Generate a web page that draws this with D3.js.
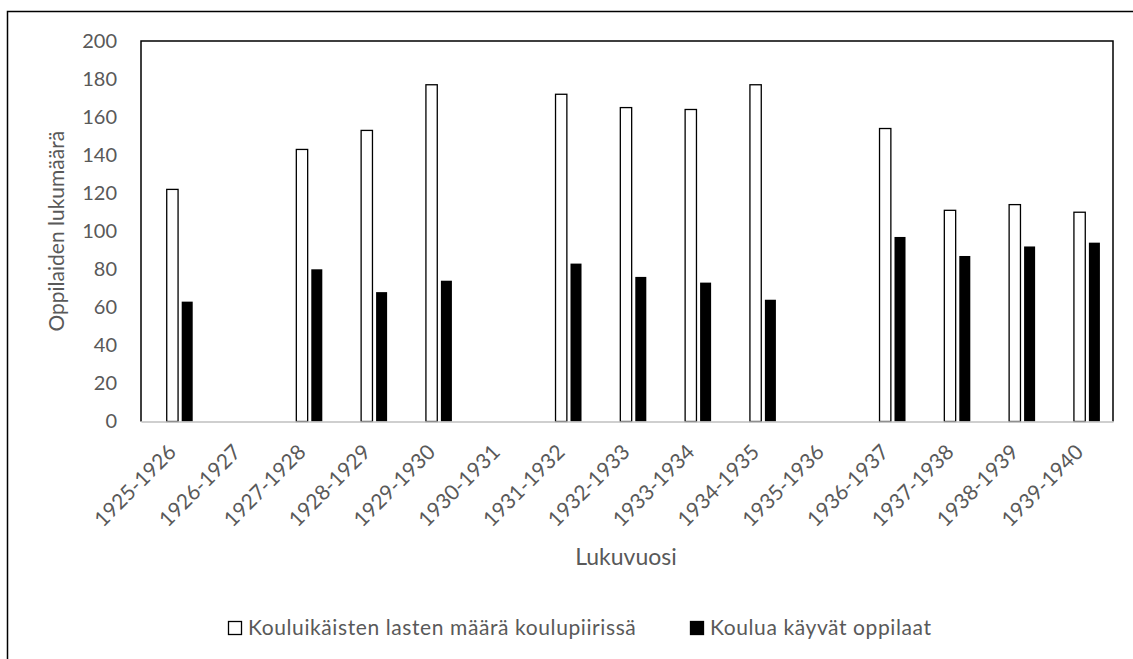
<!DOCTYPE html>
<html><head><meta charset="utf-8">
<script src="https://cdn.jsdelivr.net/npm/d3@7"></script>
<style>body{margin:0;background:#fff}svg{display:block}</style>
</head><body>
<script>
const categories = ["1925-1926","1926-1927","1927-1928","1928-1929","1929-1930","1930-1931","1931-1932","1932-1933","1933-1934","1934-1935","1935-1936","1936-1937","1937-1938","1938-1939","1939-1940"];
const children = [122,null,143,153,177,null,172,165,164,177,null,154,111,114,110];
const pupils = [63,null,80,68,74,null,83,76,73,64,null,97,87,92,94];
const seriesNames = ["Kouluikäisten lasten määrä koulupiirissä","Koulua käyvät oppilaat"];
const yTicks = [0,20,40,60,80,100,120,140,160,180,200];

const W=1133,H=659;
const m={left:141,right:1113,top:41,bottom:421.5};
const font="Lato, 'Open Sans', sans-serif";
const svg=d3.select("body").append("svg").attr("width",W).attr("height",H);

svg.append("rect").attr("x",7.5).attr("y",11.5).attr("width",1300).attr("height",800)
  .attr("fill","none").attr("stroke","#000").attr("stroke-width",1.5);

const x=d3.scaleBand().domain(categories).range([m.left,m.right]);
const y=d3.scaleLinear().domain([0,200]).range([m.bottom,m.top]);
const bw=x.bandwidth();

// plot border (top, left, right)
svg.append("path").attr("d",`M${m.left},${m.bottom}V${m.top}H${m.right}V${m.bottom}`)
  .attr("fill","none").attr("stroke","#000").attr("stroke-width",1.5);

// y axis labels
const yAxis=d3.axisLeft(y).tickValues(yTicks).tickSize(0).tickPadding(24);
const gy=svg.append("g").attr("transform",`translate(${m.left},0)`).call(yAxis);
gy.select(".domain").remove();
gy.selectAll("text").attr("font-family",font).attr("font-size",20).attr("fill","#595959");

// bars
const g=svg.append("g");
g.selectAll(".w").data(categories.map((c,i)=>({c,v:children[i]})).filter(d=>d.v!=null))
  .enter().append("rect")
  .attr("x",d=>x(d.c)+bw*0.397).attr("width",bw*0.175)
  .attr("y",d=>y(d.v)).attr("height",d=>y(0)-y(d.v))
  .attr("fill","#fff").attr("stroke","#000").attr("stroke-width",1.3);
g.selectAll(".b").data(categories.map((c,i)=>({c,v:pupils[i]})).filter(d=>d.v!=null))
  .enter().append("rect")
  .attr("x",d=>x(d.c)+bw*0.628).attr("width",bw*0.17)
  .attr("y",d=>y(d.v)).attr("height",d=>y(0)-y(d.v))
  .attr("fill","#000");

// x axis
const xAxis=d3.axisBottom(x).tickSize(0).tickPadding(0);
const gx=svg.append("g").attr("transform",`translate(0,${m.bottom})`).call(xAxis);
gx.select(".domain").attr("stroke","#bfbfbf").attr("stroke-width",1.3);
gx.selectAll("text").attr("font-family",font).attr("font-size",21).attr("fill","#595959")
  .attr("text-anchor","end").attr("dy",null)
  .attr("transform","translate(4,32) rotate(-45)");

// axis titles
svg.append("text").attr("x",626).attr("y",565).attr("text-anchor","middle")
  .attr("font-family",font).attr("font-size",23).attr("fill","#595959").text("Lukuvuosi");
svg.append("text").attr("transform",`translate(64,${(m.top+m.bottom)/2}) rotate(-90)`)
  .attr("text-anchor","middle").attr("font-family",font).attr("font-size",21).attr("fill","#595959")
  .text("Oppilaiden lukumäärä");

// legend
const leg=svg.append("g");
const items=[{n:seriesNames[0],fill:"#fff",x:228},{n:seriesNames[1],fill:"#000",x:690}];
items.forEach(it=>{
  leg.append("rect").attr("x",it.x+0.5).attr("y",621.5).attr("width",13).attr("height",13)
    .attr("fill",it.fill).attr("stroke","#000").attr("stroke-width",1.3);
  leg.append("text").attr("x",it.x+20).attr("y",635).attr("font-family",font).attr("font-size",21)
    .attr("letter-spacing",0.6).attr("fill","#595959").text(it.n);
});
</script>
</body></html>
